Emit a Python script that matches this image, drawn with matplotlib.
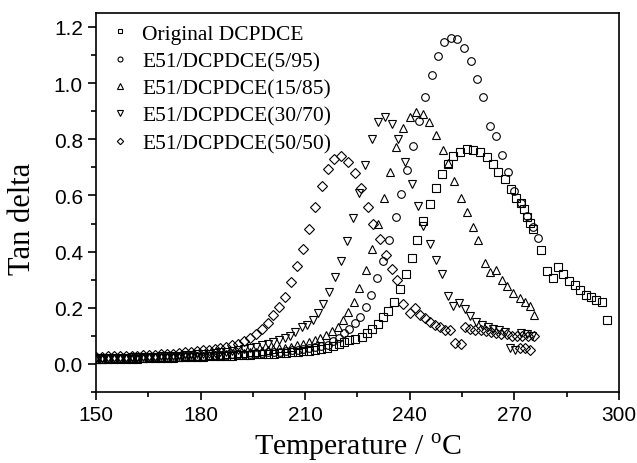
import numpy as np
import matplotlib.pyplot as plt

plt.rcParams['font.family'] = 'Liberation Serif'
plt.rcParams['mathtext.fontset'] = 'custom'
plt.rcParams['mathtext.rm'] = 'Liberation Serif'

# Original DCPDCE (squares)
sq_x = [150.0, 151.7, 153.4, 155.1, 156.8, 158.5, 160.2, 161.9, 163.6, 165.3, 167.0, 168.7,
        170.4, 172.1, 173.8, 175.5, 177.2, 178.9, 180.6, 182.3, 184.0, 185.7, 187.4, 189.1,
        190.8, 192.5, 194.2, 195.9, 197.6, 199.3, 201.0, 202.7, 204.4, 206.1, 207.8, 209.5,
        211.2, 212.9, 214.6, 216.3, 218.0, 219.6, 221.1, 222.7, 224.3, 226.3, 227.7, 229.2,
        230.9, 232.3, 233.7, 235.5, 237.2, 238.9, 240.6, 242.0, 243.8, 245.8, 247.5, 249.2,
        251.0, 252.4, 254.4, 256.4, 258.1, 260.1, 262.1, 263.8, 265.3, 267.3, 269.0, 270.4,
        271.9, 272.7, 273.6, 274.5, 275.3, 277.6, 279.3, 281.0, 282.5, 283.9, 285.6, 287.4,
        288.8, 290.5, 292.0, 293.4, 295.1, 296.5]
sq_y = [0.017, 0.017, 0.017, 0.018, 0.018, 0.018, 0.019, 0.019, 0.020, 0.020, 0.021, 0.021,
        0.022, 0.022, 0.023, 0.024, 0.024, 0.025, 0.026, 0.027, 0.028, 0.028, 0.029, 0.030,
        0.031, 0.032, 0.033, 0.034, 0.035, 0.036, 0.037, 0.038, 0.040, 0.041, 0.043, 0.045,
        0.047, 0.049, 0.052, 0.058, 0.065, 0.072, 0.079, 0.085, 0.090, 0.097, 0.111, 0.125,
        0.143, 0.168, 0.190, 0.222, 0.267, 0.319, 0.377, 0.440, 0.510, 0.570, 0.627, 0.677,
        0.713, 0.742, 0.756, 0.767, 0.763, 0.756, 0.738, 0.713, 0.685, 0.660, 0.624, 0.590,
        0.573, 0.550, 0.523, 0.502, 0.480, 0.405, 0.330, 0.305, 0.344, 0.319, 0.297, 0.280,
        0.262, 0.247, 0.240, 0.229, 0.222, 0.158]

# E51/DCPDCE(5/95) (circles)
ci_x = [150.0, 151.7, 153.4, 155.1, 156.8, 158.5, 160.2, 161.9, 163.6, 165.3, 167.0, 168.7,
        170.4, 172.1, 173.8, 175.5, 177.2, 178.9, 180.6, 182.3, 184.0, 185.7, 187.4, 189.1,
        190.8, 192.5, 194.2, 195.9, 197.6, 199.3, 201.0, 202.7, 204.4, 206.1, 207.8, 209.5,
        211.2, 212.9, 214.6, 216.5, 218.1, 219.7, 221.1, 222.6, 224.3, 225.7, 227.4, 228.9,
        230.6, 232.3, 234.0, 236.0, 237.6, 239.2, 240.9, 242.6, 244.4, 246.4, 248.1, 249.9,
        251.8, 253.6, 255.5, 257.5, 259.3, 261.1, 263.0, 264.7, 266.5, 268.2, 269.9, 271.9,
        273.6, 275.3, 276.8]
ci_y = [0.018, 0.018, 0.018, 0.019, 0.019, 0.020, 0.021, 0.021, 0.022, 0.022, 0.023, 0.024,
        0.025, 0.025, 0.026, 0.027, 0.027, 0.028, 0.029, 0.030, 0.031, 0.032, 0.033, 0.034,
        0.035, 0.036, 0.037, 0.038, 0.040, 0.041, 0.042, 0.044, 0.046, 0.048, 0.050, 0.053,
        0.056, 0.060, 0.064, 0.068, 0.080, 0.093, 0.110, 0.125, 0.147, 0.168, 0.204, 0.247,
        0.305, 0.366, 0.440, 0.523, 0.605, 0.690, 0.776, 0.866, 0.952, 1.030, 1.097, 1.145,
        1.161, 1.156, 1.125, 1.079, 1.016, 0.950, 0.849, 0.810, 0.745, 0.685, 0.616, 0.573,
        0.527, 0.487, 0.450]

# E51/DCPDCE(15/85) (up triangles)
tu_x = [150.0, 151.7, 153.4, 155.1, 156.8, 158.5, 160.2, 161.9, 163.6, 165.3, 167.0, 168.7,
        170.4, 172.1, 173.8, 175.5, 177.2, 178.9, 180.6, 182.3, 184.0, 185.7, 187.4, 189.0,
        190.7, 192.4, 194.1, 195.8, 197.5, 199.2, 200.9, 202.6, 204.3, 206.0, 207.7, 209.4,
        211.1, 212.7, 214.3, 215.9, 217.6, 219.4, 220.8, 222.3, 224.0, 225.4, 227.4, 229.2,
        230.9, 232.6, 234.3, 236.0, 238.0, 240.0, 241.8, 243.8, 245.5, 247.5, 249.5, 251.0,
        252.7, 254.7, 256.4, 258.1, 259.5, 261.6, 263.0, 264.7, 266.4, 267.9, 269.6, 271.6,
        273.0, 274.5, 275.6]
tu_y = [0.019, 0.019, 0.020, 0.020, 0.020, 0.021, 0.021, 0.022, 0.022, 0.023, 0.023, 0.024,
        0.025, 0.025, 0.026, 0.027, 0.028, 0.029, 0.030, 0.031, 0.032, 0.033, 0.035, 0.036,
        0.038, 0.040, 0.042, 0.044, 0.046, 0.049, 0.052, 0.055, 0.058, 0.062, 0.066, 0.071,
        0.077, 0.084, 0.093, 0.104, 0.117, 0.133, 0.158, 0.186, 0.222, 0.272, 0.333, 0.410,
        0.500, 0.590, 0.685, 0.774, 0.840, 0.880, 0.896, 0.889, 0.860, 0.817, 0.763, 0.717,
        0.650, 0.590, 0.540, 0.487, 0.440, 0.360, 0.326, 0.333, 0.300, 0.276, 0.254, 0.233,
        0.219, 0.208, 0.176]

# E51/DCPDCE(30/70) (down triangles)
td_x = [150.0, 151.7, 153.4, 155.1, 156.8, 158.5, 160.2, 161.9, 163.6, 165.3, 167.0, 168.7,
        170.4, 172.1, 173.8, 175.5, 177.2, 178.9, 180.6, 182.3, 184.0, 185.7, 187.4, 189.0,
        190.7, 192.4, 194.1, 195.8, 197.5, 199.2, 200.9, 202.6, 204.2, 205.7, 207.1, 209.0,
        210.5, 212.2, 213.7, 215.1, 216.8, 218.5, 220.3, 222.0, 223.6, 225.3, 227.1, 229.2,
        230.9, 232.9, 234.9, 236.6, 238.6, 240.6, 242.3, 243.9, 245.8, 247.5, 249.2, 251.0,
        252.4, 254.1, 255.8, 257.3, 259.0, 260.7, 262.4, 264.0, 265.7, 267.3, 268.7, 270.2,
        271.8, 273.5, 275.0]
td_y = [0.020, 0.020, 0.021, 0.021, 0.022, 0.022, 0.023, 0.023, 0.024, 0.025, 0.026, 0.027,
        0.028, 0.029, 0.030, 0.031, 0.032, 0.034, 0.035, 0.037, 0.039, 0.041, 0.044, 0.047,
        0.050, 0.053, 0.057, 0.061, 0.066, 0.071, 0.077, 0.084, 0.092, 0.101, 0.112, 0.130,
        0.140, 0.158, 0.180, 0.215, 0.255, 0.310, 0.365, 0.437, 0.520, 0.610, 0.710, 0.800,
        0.860, 0.878, 0.853, 0.800, 0.720, 0.640, 0.563, 0.490, 0.426, 0.370, 0.320, 0.243,
        0.205, 0.218, 0.194, 0.172, 0.150, 0.140, 0.130, 0.125, 0.120, 0.115, 0.057, 0.050,
        0.110, 0.105, 0.100]

# E51/DCPDCE(50/50) (diamonds)
di_x = [150.0, 151.7, 153.4, 155.1, 156.8, 158.5, 160.2, 161.9, 163.6, 165.3, 167.0, 168.7,
        170.4, 172.1, 173.8, 175.5, 177.2, 178.9, 180.6, 182.3, 184.0, 185.7, 187.4, 189.0,
        190.7, 192.4, 194.2, 195.9, 197.6, 199.2, 200.8, 202.5, 204.2, 205.9, 207.6, 209.4,
        211.1, 212.8, 214.8, 216.5, 218.3, 220.3, 222.3, 224.3, 226.0, 228.0, 229.4, 231.4,
        233.2, 234.9, 236.3, 238.0, 240.0, 241.5, 242.9, 244.3, 245.8, 247.2, 248.6, 250.0,
        251.6, 253.0, 254.7, 255.8, 257.3, 258.8, 260.3, 261.8, 263.3, 264.8, 266.3, 267.8,
        269.3, 270.8, 272.3, 273.8, 275.5, 271.6, 273.1, 274.5]
di_y = [0.026, 0.026, 0.027, 0.027, 0.028, 0.028, 0.029, 0.030, 0.031, 0.032, 0.033, 0.034,
        0.036, 0.037, 0.039, 0.041, 0.043, 0.045, 0.048, 0.051, 0.054, 0.058, 0.062, 0.066,
        0.070, 0.080, 0.093, 0.107, 0.125, 0.147, 0.176, 0.204, 0.240, 0.290, 0.350, 0.410,
        0.480, 0.560, 0.635, 0.695, 0.730, 0.740, 0.720, 0.680, 0.625, 0.560, 0.500, 0.445,
        0.387, 0.337, 0.300, 0.215, 0.180, 0.200, 0.175, 0.165, 0.150, 0.140, 0.133, 0.122,
        0.122, 0.075, 0.072, 0.130, 0.125, 0.122, 0.120, 0.118, 0.115, 0.110, 0.108, 0.105,
        0.100, 0.100, 0.098, 0.098, 0.100, 0.058, 0.055, 0.050]

labels = ['Original DCPDCE', 'E51/DCPDCE(5/95)', 'E51/DCPDCE(15/85)',
          'E51/DCPDCE(30/70)', 'E51/DCPDCE(50/50)']
series = [(sq_x, sq_y, 's', 5.5), (ci_x, ci_y, 'o', 5.5), (tu_x, tu_y, '^', 6),
          (td_x, td_y, 'v', 6), (di_x, di_y, 'D', 5.0)]

fig = plt.figure(figsize=(6.37, 4.64), dpi=100)
ax = fig.add_axes([0.1507, 0.153, 0.821, 0.817])

for (x, y, m, ms), lab in zip(series, labels):
    ax.plot(x, y, linestyle='none', marker=m, markersize=ms, markerfacecolor='none',
            markeredgecolor='black', markeredgewidth=0.8, label=lab)

ax.set_xlim(150, 300)
ax.set_ylim(-0.1, 1.25)
ax.set_xticks(np.arange(150, 301, 30))
ax.set_xticks(np.arange(165, 300, 30), minor=True)
ax.set_yticks(np.arange(0.0, 1.21, 0.2))
ax.set_yticks(np.arange(-0.1, 1.25, 0.2), minor=True)
ax.yaxis.set_major_formatter(plt.FormatStrFormatter('%.1f'))
ax.tick_params(which='both', direction='out', top=False, right=False, width=1.2)
ax.tick_params(which='major', length=6, labelsize=15)
ax.tick_params(which='minor', length=3.5)
for lbl in ax.get_xticklabels() + ax.get_yticklabels():
    lbl.set_family('Liberation Sans')
for s in ax.spines.values():
    s.set_linewidth(1.2)

ax.set_xlabel('Temperature / $^{\\rm o}$C', fontsize=21.5, labelpad=5)
ax.set_ylabel('Tan delta', fontsize=22)
ax.yaxis.set_label_coords(-0.112, 0.46)

ax.legend(loc='upper left', frameon=False, fontsize=15.5, markerscale=0.65,
          handletextpad=0.45, labelspacing=0.34, borderaxespad=0.1, handlelength=1.2)

fig.savefig('out.png', dpi=100)
